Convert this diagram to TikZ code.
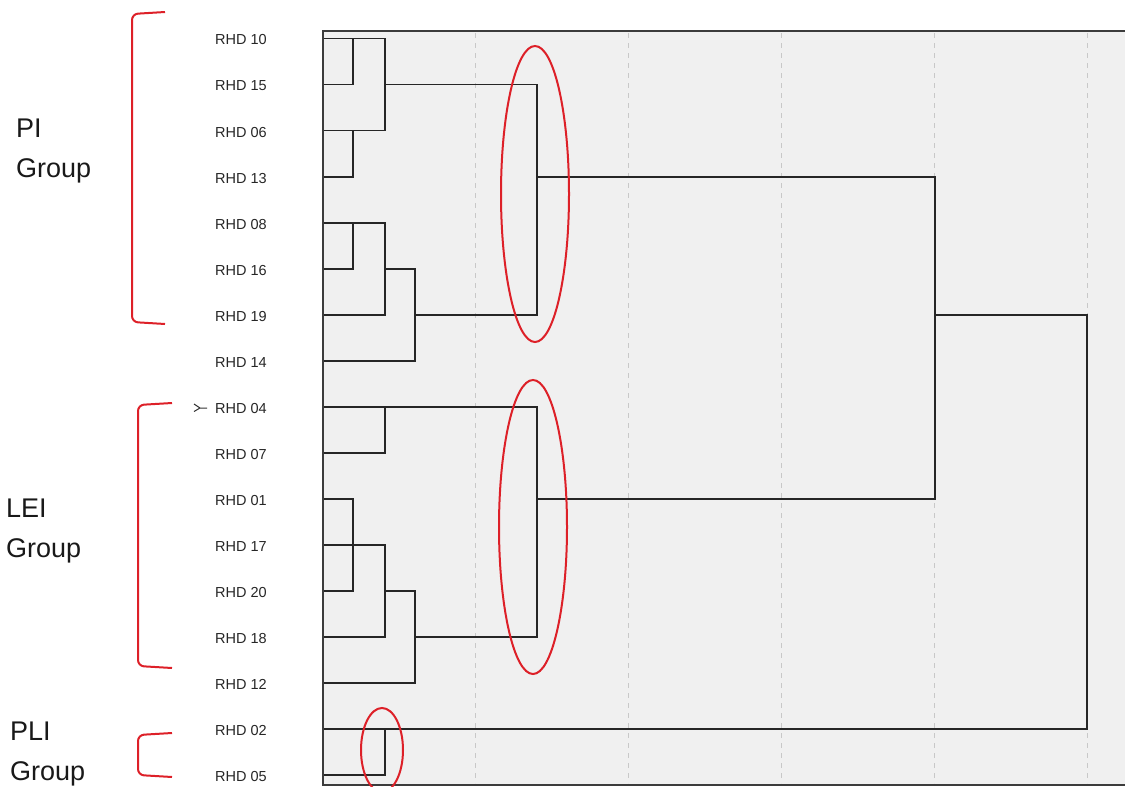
\documentclass[tikz,border=0pt]{standalone}
\usepackage{fontspec}
\setmainfont{Liberation Sans}
\definecolor{annot}{RGB}{221,32,40}
\definecolor{plotbg}{RGB}{240,240,240}
\definecolor{gridc}{RGB}{200,200,200}
\definecolor{framec}{RGB}{60,60,60}
\tikzset{
  tree/.style={draw=black!85, line width=1.7pt},
  gridline/.style={draw=gridc, line width=1pt, dash pattern=on 5pt off 5pt},
  frameline/.style={draw=framec, line width=2pt},
  redmark/.style={draw=annot, line width=2pt},
  leaflabel/.style={anchor=west, inner sep=0pt, font=\fontsize{14.5}{17}\selectfont, text=black!85},
  grouplabel/.style={anchor=base west, inner sep=0pt, font=\fontsize{27}{32}\selectfont, text=black!90}
}
\begin{document}
\begin{tikzpicture}[x=1pt,y=-1pt]
\useasboundingbox (0,0) rectangle (1125,787);
% plot background
\fill[plotbg] (322.5,31) rectangle (1125,785);
% grid lines
\foreach \gx in {475,628,781,934,1087}
  \draw[gridline] (\gx,33) -- (\gx,783);
% merge x positions
\coordinate (xa) at (353,0);
\coordinate (xb) at (385,0);
\coordinate (xc) at (415,0);
\coordinate (xd) at (537,0);
\coordinate (xe) at (935,0);
\coordinate (xf) at (1087,0);
% leaves
\foreach \i/\lab in {0/10,1/15,2/06,3/13,4/08,5/16,6/19,7/14,8/04,9/07,10/01,11/17,12/20,13/18,14/12,15/02,16/05}{
  \pgfmathsetmacro{\yy}{38.5+46.05*\i}
  \coordinate (l\i) at (322.5,\yy);
  \node[leaflabel] (r\i) at (215,\yy+1.5) {RHD \lab};
}
% PI cluster
\draw[tree] (l0) -| (l2-|xb) -- (l2);
\draw[tree] (l1) -| (l0-|xa);
\draw[tree] (l3) -| (l2-|xa);
\draw[tree] (l4) -| (l6-|xb) -- (l6);
\draw[tree] (l5) -| (l4-|xa);
\draw[tree] (l5-|xb) -| (l7-|xc) -- (l7);
\draw[tree] (l1-|xb) -| (l6-|xd) -- (l6-|xc);
% LEI cluster
\draw[tree] (l8) -| (l13-|xd) -- (l13-|xc);
\draw[tree] (l9) -| (l8-|xb);
\draw[tree] (l10) -| (l12-|xa) -- (l12);
\draw[tree] (l11) -| (l13-|xb) -- (l13);
\draw[tree] (l12-|xb) -| (l14-|xc) -- (l14);
% PLI
\draw[tree] (l16) -| (l15-|xb);
% upper joins
\draw[tree] (l3-|xd) -| (l10-|xe) -- (l10-|xd);
\draw[tree] (l6-|xe) -| (l15-|xf) -- (l15);
% frame
\draw[frameline] (1125,31) -- (322.5,31) -- (322.5,785) -- (1125,785);
% small mark before RHD 04
\draw[black!80, line width=1pt] (194,404) -- (200,408) -- (194,411.5) (200,408) -- (207,408);
% red brackets
\draw[redmark, rounded corners=6pt] (165,12) -- (132,14) -- (132,322) -- (165,324);
\draw[redmark, rounded corners=6pt] (172,403) -- (138,405) -- (138,666) -- (172,668);
\draw[redmark, rounded corners=6pt] (172,733) -- (138,735) -- (138,775) -- (172,777);
% red ellipses
\draw[redmark] (535,194) ellipse [x radius=34, y radius=148];
\draw[redmark] (533,527) ellipse [x radius=34, y radius=147];
\draw[redmark] (382,750) ellipse [x radius=21, y radius=42];
% group labels
\node[grouplabel] (pi1) at (16,137) {PI};
\node[grouplabel] (pi2) at (16,177) {Group};
\node[grouplabel] (lei1) at (6,517) {LEI};
\node[grouplabel] (lei2) at (6,557) {Group};
\node[grouplabel] (pli1) at (10,740) {PLI};
\node[grouplabel] (pli2) at (10,780) {Group};
\end{tikzpicture}
\end{document}
